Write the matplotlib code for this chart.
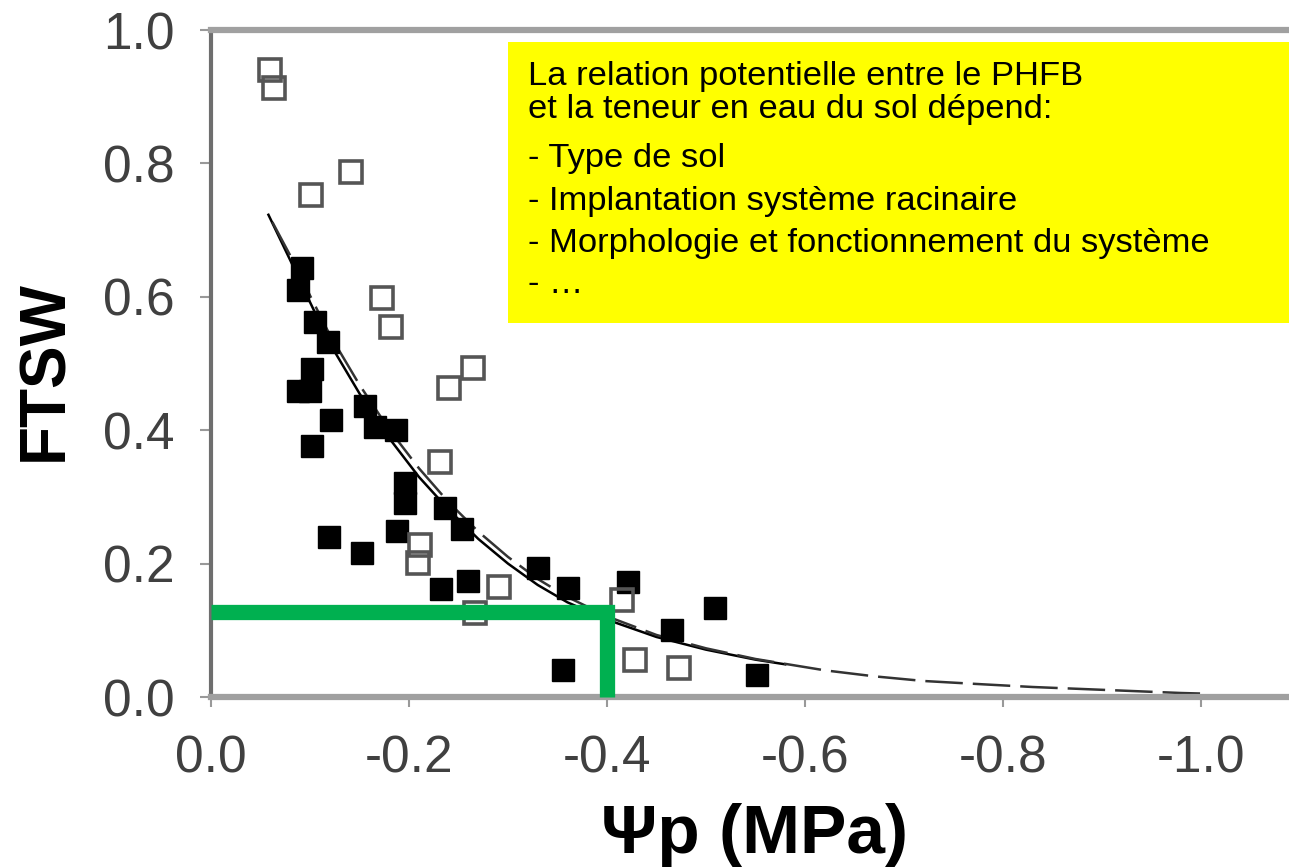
import matplotlib
matplotlib.use("Agg")
import matplotlib.pyplot as plt
from matplotlib.patches import Rectangle

plt.rcParams['font.family'] = ['Liberation Sans', 'DejaVu Sans']

# Points (Psi p en MPa, FTSW)
open_x = [-0.060, -0.064, -0.101, -0.141, -0.173, -0.182, -0.240, -0.265, -0.231,
          -0.211, -0.209, -0.291, -0.267, -0.415, -0.428, -0.473]
open_y = [0.940, 0.913, 0.753, 0.787, 0.598, 0.555, 0.463, 0.493, 0.352,
          0.228, 0.201, 0.165, 0.126, 0.145, 0.055, 0.043]

filled_x = [-0.092, -0.088, -0.105, -0.118, -0.102, -0.088, -0.100, -0.121, -0.102,
            -0.156, -0.166, -0.187, -0.196, -0.196, -0.188, -0.119, -0.153, -0.236,
            -0.254, -0.232, -0.260, -0.330, -0.361, -0.356, -0.421, -0.509, -0.466,
            -0.552]
filled_y = [0.643, 0.610, 0.562, 0.532, 0.492, 0.459, 0.459, 0.415, 0.376,
            0.437, 0.405, 0.400, 0.321, 0.291, 0.249, 0.240, 0.216, 0.283,
            0.252, 0.162, 0.174, 0.193, 0.163, 0.040, 0.172, 0.133, 0.100,
            0.033]

# Courbes d'ajustement
solid_x = [-0.058, -0.08, -0.10, -0.12, -0.15, -0.18, -0.21, -0.24, -0.27, -0.30,
           -0.33, -0.36, -0.40, -0.45, -0.50, -0.55, -0.58]
solid_y = [0.723, 0.655, 0.592, 0.530, 0.455, 0.388, 0.330, 0.281, 0.237, 0.200,
           0.168, 0.142, 0.116, 0.090, 0.071, 0.056, 0.049]

dash_x = [-0.062, -0.08, -0.10, -0.12, -0.15, -0.18, -0.21, -0.24, -0.27, -0.30,
          -0.33, -0.36, -0.40, -0.45, -0.50, -0.55, -0.62, -0.67, -0.72, -0.78,
          -0.83, -0.88, -0.93, -0.98, -1.005]
dash_y = [0.712, 0.662, 0.602, 0.543, 0.468, 0.401, 0.343, 0.292, 0.248, 0.210,
          0.177, 0.150, 0.121, 0.093, 0.073, 0.057, 0.040, 0.031, 0.024, 0.019,
          0.015, 0.012, 0.009, 0.006, 0.005]

# Seuil (trait vert)
green_x = [0.0, -0.40, -0.40]
green_y = [0.127, 0.127, 0.0]

x_ticks = [0.0, -0.2, -0.4, -0.6, -0.8, -1.0]
y_ticks = [0.0, 0.2, 0.4, 0.6, 0.8, 1.0]

box_lines = ["La relation potentielle entre le PHFB",
             "et la teneur en eau du sol dépend:",
             "- Type de sol",
             "- Implantation système racinaire",
             "- Morphologie et fonctionnement du système",
             "- …"]
box_line_y = [0.9175, 0.868, 0.7946, 0.730, 0.667, 0.6057]

fig = plt.figure(figsize=(12.89, 8.68), dpi=100)
ax = fig.add_axes([0.1637, 0.197, 0.8363, 0.7684])

ax.plot(solid_x, solid_y, color="black", lw=1.8, zorder=2)
ax.plot(dash_x, dash_y, color="#333333", lw=1.8, linestyle=(0, (15, 4)), zorder=2)

ax.plot(filled_x, filled_y, linestyle="none", marker="s", ms=16,
        mfc="black", mec="black", mew=1, zorder=3)
ax.plot(open_x, open_y, linestyle="none", marker="s", ms=16.5,
        mfc="none", mec="#555555", mew=2.6, zorder=3)

ax.plot(green_x, green_y, color="#00B050", lw=11, solid_joinstyle="miter",
        solid_capstyle="butt", zorder=4, clip_on=False)

ax.set_xlim(0, -1.0889)
ax.set_ylim(0, 1.0)
ax.set_xticks(x_ticks)
ax.set_yticks(y_ticks)
ax.set_xticklabels([f"{v:.1f}" if v == 0 else f"-{abs(v):.1f}" for v in x_ticks])
ax.set_yticklabels([f"{v:.1f}" for v in y_ticks])

ax.spines["right"].set_visible(False)
ax.spines["left"].set_color("#6e6e6e")
ax.spines["left"].set_linewidth(3)
ax.spines["bottom"].set_color("#a0a0a0")
ax.spines["bottom"].set_linewidth(4.5)
ax.spines["top"].set_color("#a0a0a0")
ax.spines["top"].set_linewidth(4.5)

ax.tick_params(axis="y", direction="out", length=8, width=1.5, color="#999999",
               labelsize=37, labelcolor="#404040", pad=18)
ax.tick_params(axis="x", direction="out", length=7, width=1.5, color="#999999",
               labelsize=37, labelcolor="#404040", pad=20)

ax.set_xlabel("Ψp (MPa)", fontsize=50, fontweight="bold")
ax.xaxis.label.set_va("center")
ax.xaxis.set_label_coords(0.5046, -0.207)
ax.set_ylabel("FTSW", fontsize=46, fontweight="bold")
ax.yaxis.label.set_va("center")
ax.yaxis.set_label_coords(-0.154, 0.49)

# Encadré jaune
ax.add_patch(Rectangle((0.2755, 0.5607), 0.73, 0.4213, transform=ax.transAxes,
                       facecolor="#FFFF00", edgecolor="none", zorder=5, clip_on=False))
for line, yy in zip(box_lines, box_line_y):
    ax.text(0.294, yy, line, transform=ax.transAxes, fontsize=24.8, color="black",
            va="baseline", ha="left", zorder=6)

fig.savefig("out.png", dpi=100)
